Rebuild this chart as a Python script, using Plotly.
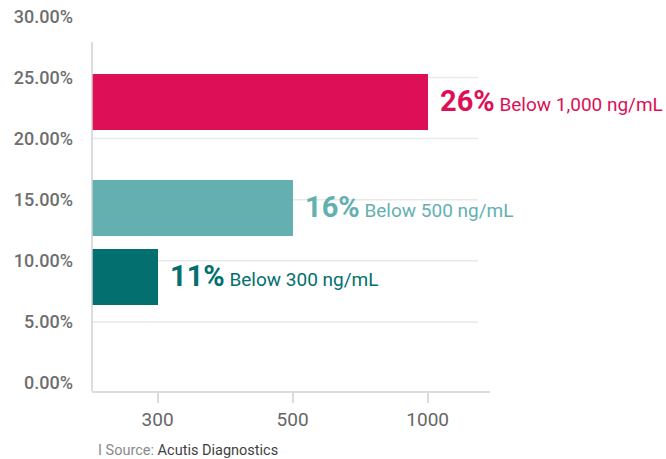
import plotly.graph_objects as go

# ---- data ----
thresholds = ["300", "500", "1000"]
shares = [11, 16, 26]
share_labels = ["11%", "16%", "26%"]
descriptions = ["Below 300 ng/mL", "Below 500 ng/mL", "Below 1,000 ng/mL"]
y_ticks = [0, 5, 10, 15, 20, 25, 30]
y_tick_text = ["0.00%", "5.00%", "10.00%", "15.00%", "20.00%", "25.00%", "30.00%"]
source_label = "Source:"
source_name = "Acutis Diagnostics"

# ---- layout constants ----
colors = ["#036F6F", "#64B0B1", "#DD0F56"]
bar_centers = [8.67, 14.32, 23.0]   # vertical placement of each band
bar_thickness = 4.6
x_pos = [i + 1 for i in range(len(thresholds))]
FONT = "Roboto"

fig = go.Figure()
for i in range(len(thresholds)):
    fig.add_trace(go.Bar(
        x=[x_pos[i]], y=[bar_centers[i]], orientation="h",
        width=bar_thickness, marker=dict(color=colors[i], line=dict(width=0)),
        showlegend=False, hoverinfo="skip",
    ))
    fig.add_annotation(
        x=x_pos[i], y=bar_centers[i], xref="x", yref="y",
        xanchor="left", yanchor="middle", xshift=10, yshift=1,
        showarrow=False,
        text=(f"<b><span style='font-size:29px'>{share_labels[i]}</span></b>"
              f"<span style='font-size:19px'> {descriptions[i]}</span>"),
        font=dict(family=FONT, color=colors[i], size=19),
    )

# light gridlines at inner ticks
for v in y_ticks[1:-1]:
    fig.add_shape(type="line", xref="paper", yref="y", x0=0, x1=0.97, y0=v, y1=v,
                  line=dict(color="#E9E9E9", width=1.5), layer="below")

# left axis line
fig.add_shape(type="line", xref="paper", yref="y", x0=0, x1=0, y0=-0.65, y1=27.9,
              line=dict(color="#D0D0D0", width=1.5))

fig.add_annotation(
    x=0.01, y=0.0, xref="paper", yref="paper", xanchor="left", yanchor="bottom",
    yshift=-70, showarrow=False,
    text=f"<span style='color:#8A8A8A'>I {source_label}</span> "
         f"<span style='color:#3F3F3F'>{source_name}</span>",
    font=dict(family=FONT, size=14.5),
)

fig.update_layout(
    width=666, height=459,
    margin=dict(l=92, r=176, t=12, b=68),
    plot_bgcolor="white", paper_bgcolor="white",
    bargap=0,
    xaxis=dict(
        range=[0.514, 3.462], tickvals=x_pos, ticktext=thresholds,
        showgrid=False, zeroline=False, automargin=False,
        showline=True, linecolor="#DCDCDC", linewidth=1.5,
        ticks="outside", ticklen=10, tickcolor="#DCDCDC", tickwidth=1.5,
        tickfont=dict(family=FONT, size=19, color="#666666"),
    ),
    yaxis=dict(
        range=[-0.65, 30.35], tickvals=y_ticks, ticktext=y_tick_text,
        showgrid=False, zeroline=False, showline=False, ticks="",
        automargin=False, ticklabelstandoff=18,
        tickfont=dict(family=FONT, size=18, color="#6E6E6E", weight=500),
    ),
)

fig.write_html("out.html")
